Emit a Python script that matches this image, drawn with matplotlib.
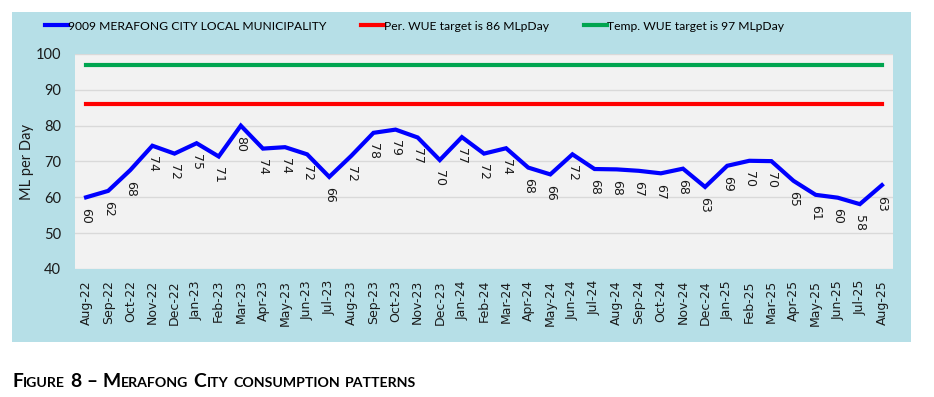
import matplotlib
matplotlib.use("Agg")
import matplotlib.pyplot as plt
from matplotlib.patches import Rectangle

# monthly consumption, Aug-22 .. Aug-25 (ML per day)
months = ["Aug-22", "Sep-22", "Oct-22", "Nov-22", "Dec-22", "Jan-23", "Feb-23", "Mar-23",
          "Apr-23", "May-23", "Jun-23", "Jul-23", "Aug-23", "Sep-23", "Oct-23", "Nov-23",
          "Dec-23", "Jan-24", "Feb-24", "Mar-24", "Apr-24", "May-24", "Jun-24", "Jul-24",
          "Aug-24", "Sep-24", "Oct-24", "Nov-24", "Dec-24", "Jan-25", "Feb-25", "Mar-25",
          "Apr-25", "May-25", "Jun-25", "Jul-25", "Aug-25"]
consumption = [60.0, 61.8, 67.6, 74.4, 72.2, 75.1, 71.4, 80.0,
               73.6, 74.0, 72.0, 65.7, 71.6, 78.0, 78.9, 76.7,
               70.4, 76.8, 72.2, 73.7, 68.3, 66.4, 72.0, 67.9,
               67.8, 67.4, 66.7, 68.0, 62.9, 68.8, 70.2, 70.1,
               64.6, 60.7, 59.9, 58.1, 63.4]
per_target = [86] * len(months)
temp_target = [97] * len(months)

W, H = 934, 397
fig = plt.figure(figsize=(W / 100, H / 100), dpi=100)

# light blue panel behind the chart
fig.patches.append(Rectangle((12 / W, 1 - 342 / H), 899 / W, 330 / H,
                             transform=fig.transFigure, facecolor="#b6dfe7",
                             edgecolor="none", zorder=-5))

ax = fig.add_axes([75 / W, 1 - 269 / H, 818 / W, 215 / H])
ax.set_facecolor("#f2f2f2")

x = list(range(len(months)))
l1, = ax.plot(x, consumption, color="#0000ff", lw=3, solid_joinstyle="miter", zorder=4,
              label="9009 MERAFONG CITY LOCAL MUNICIPALITY")
l2, = ax.plot(x, per_target, color="#ff0000", lw=3, zorder=3,
              label="Per. WUE target is 86 MLpDay")
l3, = ax.plot(x, temp_target, color="#00a550", lw=3, zorder=3,
              label="Temp. WUE target is 97 MLpDay")

for i, v in enumerate(consumption):
    ax.annotate(f"{v:.0f}", (i, v), xytext=(0, -7.5), textcoords="offset points",
                rotation=-90, ha="center", va="top", fontsize=9,
                family="DejaVu Sans", color="#1a1a1a", zorder=5)

ax.set_xlim(-0.5, len(months) - 0.5)
ax.set_ylim(40, 100)
ax.set_yticks(range(40, 101, 10))
ax.set_xticks(x)
ax.set_xticklabels(months, rotation=90, fontsize=9, family="DejaVu Sans", color="#1a1a1a")
for t in ax.get_yticklabels():
    t.set_fontsize(10.5)
    t.set_family("Lato")
    t.set_color("#1a1a1a")
ax.tick_params(axis="both", length=0)
ax.tick_params(axis="x", pad=8)
ax.tick_params(axis="y", pad=10)
ax.grid(axis="y", color="#d9d9d9", lw=1)
ax.set_axisbelow(True)
for s in ax.spines.values():
    s.set_visible(False)

fig.text(27 / W, 1 - 161.5 / H, "ML per Day", rotation=90, ha="center", va="center",
         fontsize=10.5, family="Lato", color="#1a1a1a")

fig.legend(handles=[l1, l2, l3], loc="center left", bbox_to_anchor=(45 / W, 1 - 26 / H),
           ncol=3, frameon=False, borderpad=0, borderaxespad=0, handlelength=1.9,
           handletextpad=0, columnspacing=2.9, prop={"family": "Lato", "size": 8.7})

# caption in small caps
parts = [("F", 1), ("IGURE", 0), (" ", 1), ("8", 1), (" ", 1), ("\u2013", 1), (" ", 1),
         ("M", 1), ("ERAFONG", 0), (" ", 1), ("C", 1), ("ITY", 0), (" ", 1),
         ("CONSUMPTION", 0), (" ", 1), ("PATTERNS", 0)]
renderer = fig.canvas.get_renderer()
cx = 12
for s, big in parts:
    if s == " ":
        cx += 4.6
        continue
    t = fig.text(cx / W, 1 - 387 / H, s, fontsize=13.9 if big else 10.2, fontweight="bold",
                 family="Lato", color="#000000", va="baseline", ha="left")
    cx += t.get_window_extent(renderer).width + 0.4

fig.savefig("out.png", dpi=100)
